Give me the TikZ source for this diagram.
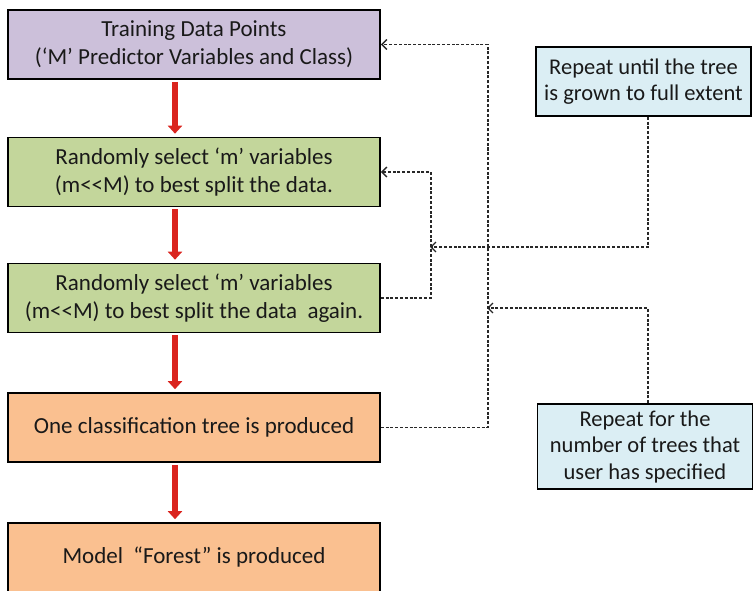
\documentclass[tikz,border=0pt]{standalone}
\usepackage{fontspec}
\setmainfont{Carlito}
\usepackage{tikz}
\usetikzlibrary{arrows.meta,calc}
\usepackage{xcolor}
\definecolor{boxpurple}{RGB}{204,192,218}
\definecolor{boxgreen}{RGB}{195,214,155}
\definecolor{boxorange}{RGB}{250,192,144}
\definecolor{boxblue}{RGB}{219,238,244}
\definecolor{flowred}{RGB}{218,36,30}
\definecolor{loopgray}{RGB}{40,40,40}

\begin{document}
\begin{tikzpicture}[x=1pt,y=-1pt,
  every node/.style={font=\fontsize{23}{28}\selectfont,text=black!90},
  stepbox/.style={draw=black,line width=1.6pt,minimum width=372pt,minimum height=69pt,align=center,inner sep=2pt},
  notebox/.style={draw=black,line width=1.6pt,fill=boxblue,minimum width=215pt,minimum height=69pt,align=center,inner sep=2pt,font=\fontsize{22.5}{26.5}\selectfont},
  flow/.style={-{Triangle[width=14pt,length=8pt]},flowred,line width=6.5pt,shorten <=2pt,shorten >=3pt},
  loop/.style={-{Straight Barb[length=5pt,width=10pt]},loopgray,line width=1.4pt,dash pattern=on 3pt off 1.8pt}]
\useasboundingbox (0,0) rectangle (753,591);

% Main steps
\node[stepbox,fill=boxpurple] (train) at (194,44.5) {Training Data Points\\(‘M’ Predictor Variables and Class)};
\node[stepbox,fill=boxgreen] (split1) at (194,172) {Randomly select ‘m’ variables\\(m<{}<M) to best split the data.};
\node[stepbox,fill=boxgreen] (split2) at (194,298) {Randomly select ‘m’ variables\\(m<{}<M) to best split the data \ again.};
\node[stepbox,fill=boxorange] (tree) at (194,427.5) {One classification tree is produced};
\node[stepbox,fill=boxorange] (forest) at (194,557.5) {Model \ “Forest” is produced};

% Side notes
\node[notebox] (grow) at (643.5,81.5) {Repeat until the tree\\is grown to full extent};
\node[notebox,minimum height=85pt] (ntrees) at (645,446.5) {Repeat for the\\number of trees that\\user has specified};

% Red arrows
\draw[flow] ([xshift=-19pt]train.south) -- ([xshift=-19pt]split1.north);
\draw[flow] ([xshift=-19pt]split1.south) -- ([xshift=-19pt]split2.north);
\draw[flow] ([xshift=-19pt]split2.south) -- ([xshift=-19pt]tree.north);
\draw[flow] ([xshift=-19pt]tree.south) -- ([xshift=-19pt]forest.north);

% Dashed loops
\coordinate (innerjoin) at (430,247);
\coordinate (outerjoin) at (487,308);
\draw[loop] (split2.east) -| ($(split1.east)+(50,0)$) -- (split1.east);
\draw[loop] (tree.east) -| ($(train.east)+(107,0)$) -- (train.east);
\draw[loop] ([xshift=4.5pt]grow.south) |- (innerjoin);
\draw[loop] ([xshift=3pt]ntrees.north) |- (outerjoin);
\end{tikzpicture}
\end{document}
